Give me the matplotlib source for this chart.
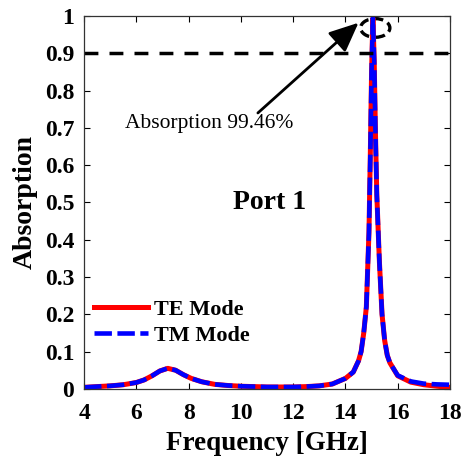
import matplotlib
matplotlib.use('Agg')

import matplotlib.pyplot as plt
from matplotlib.patches import Ellipse

# Absorption spectra
freq = [4.0, 4.5, 5.0, 5.5, 6.0, 6.3, 6.6, 6.9, 7.2, 7.5, 7.8, 8.1, 8.5, 9.0, 9.5,
        10.0, 11.0, 12.0, 12.5, 13.0, 13.5, 14.0, 14.3, 14.5, 14.6, 14.7, 14.8,
        14.9, 14.95, 15.0, 15.05, 15.1, 15.15, 15.2, 15.3, 15.4, 15.5, 15.6, 15.7,
        16.0, 16.5, 17.0, 17.5, 18.0]
te_mode = [0.004, 0.006, 0.008, 0.011, 0.017, 0.024, 0.035, 0.048, 0.055, 0.050,
           0.038, 0.028, 0.019, 0.012, 0.009, 0.007, 0.005, 0.005, 0.006, 0.008,
           0.013, 0.028, 0.045, 0.075, 0.100, 0.150, 0.220, 0.420, 0.620, 0.850,
           0.9946, 0.880, 0.680, 0.520, 0.340, 0.200, 0.130, 0.090, 0.070, 0.035,
           0.018, 0.011, 0.007, 0.004]
tm_mode = [0.004, 0.006, 0.008, 0.011, 0.017, 0.024, 0.035, 0.048, 0.055, 0.050,
           0.038, 0.028, 0.019, 0.012, 0.009, 0.007, 0.005, 0.005, 0.006, 0.008,
           0.013, 0.028, 0.045, 0.075, 0.100, 0.150, 0.220, 0.420, 0.620, 0.850,
           0.9946, 0.880, 0.680, 0.520, 0.340, 0.200, 0.130, 0.090, 0.070, 0.036,
           0.020, 0.014, 0.012, 0.011]
threshold = 0.9
x_ticks = [4, 6, 8, 10, 12, 14, 16, 18]
y_ticks = [0, 0.1, 0.2, 0.3, 0.4, 0.5, 0.6, 0.7, 0.8, 0.9, 1]
y_tick_labels = ['0', '0.1', '0.2', '0.3', '0.4', '0.5', '0.6', '0.7', '0.8', '0.9', '1']

plt.rcParams['font.family'] = ['Liberation Serif', 'DejaVu Serif']

fig = plt.figure(figsize=(4.62, 4.58), dpi=100)
ax = fig.add_axes([0.182, 0.151, 0.792, 0.814])

# Curves
ax.plot(freq, te_mode, color='#ff0000', linewidth=3.6, label='TE Mode')
ax.plot(freq, tm_mode, color='#0000ff', linewidth=3.3, linestyle=(0, (3.8, 1.2)),
        label='TM Mode')

# 90% reference line
ax.axhline(threshold, color='black', linewidth=2.5, linestyle=(0, (4, 3.2)))

# Peak marker and annotation
ax.add_patch(Ellipse((15.14, 0.968), 1.12, 0.05, fill=False, edgecolor='black',
                     linewidth=2.4, linestyle=(0, (3, 1.5)), clip_on=False))
ax.annotate('', xy=(14.5, 0.982), xytext=(10.65, 0.74),
            arrowprops=dict(arrowstyle='-|>,head_length=0.9,head_width=0.4',
                            color='black', linewidth=2, mutation_scale=20,
                            shrinkA=0, shrinkB=0))
ax.text(5.55, 0.713, 'Absorption 99.46%', fontsize=15.5, ha='left', va='center')
ax.text(11.08, 0.50, 'Port 1', fontsize=20, fontweight='bold', ha='center', va='center')

# Axes styling
ax.set_xlim(4, 18)
ax.set_ylim(0, 1)
ax.set_xticks(x_ticks)
ax.set_yticks(y_ticks)
ax.set_yticklabels(y_tick_labels)
ax.tick_params(direction='in', top=True, right=True, length=4, width=0.8,
               labelsize=17, pad=7)
ax.tick_params(axis='x', pad=10)
for lab in ax.get_xticklabels() + ax.get_yticklabels():
    lab.set_fontweight('bold')
for sp in ax.spines.values():
    sp.set_linewidth(0.9)
    sp.set_color('#333333')

ax.set_xlabel('Frequency [GHz]', fontsize=19.5, fontweight='bold', labelpad=5)
ax.set_ylabel('Absorption', fontsize=20, fontweight='bold', labelpad=5)

ax.legend(loc='lower left', bbox_to_anchor=(-0.01, 0.08), frameon=False,
          prop={'weight': 'bold', 'size': 16}, handlelength=2.45,
          handletextpad=0.25, labelspacing=0.25, borderaxespad=0.2)

fig.savefig('out.png', dpi=100)
